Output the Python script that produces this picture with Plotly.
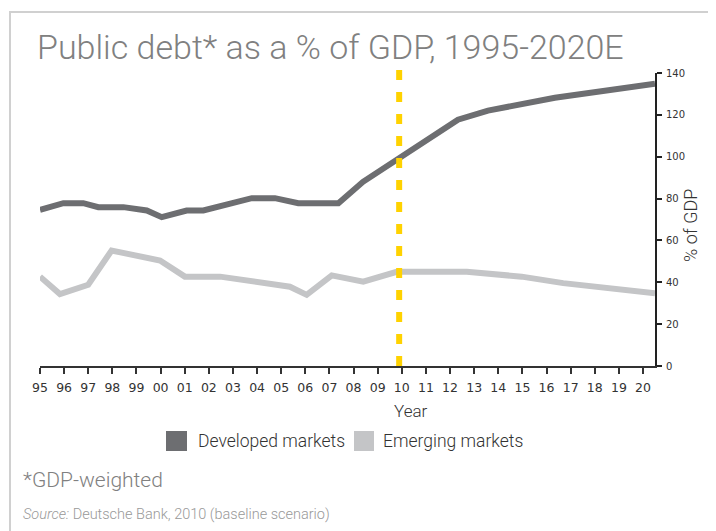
import plotly.graph_objects as go

# ---------------- data ----------------
tick_years = list(range(1995, 2021))
tick_labels = [f"{y % 100:02d}" for y in tick_years]
y_ticks = [0, 20, 40, 60, 80, 100, 120, 140]

# Developed markets (year position, % of GDP)
dev_years = [1995.0, 1995.95, 1996.76, 1997.37, 1998.39, 1999.34, 1999.95, 2000.96,
             2001.64, 2002.72, 2003.61, 2004.55, 2005.50, 2007.13, 2008.13, 2011.99,
             2013.21, 2015.93, 2020.0]
dev_vals = [74.6, 77.8, 77.8, 75.9, 75.9, 74.3, 71.1, 74.3,
            74.3, 77.8, 80.2, 80.2, 77.8, 77.8, 88.0, 117.7,
            122.0, 128.2, 134.9]

# Emerging markets
emg_years = [1995.0, 1995.81, 1996.96, 1997.91, 1999.88, 2000.89, 2002.32, 2005.16,
             2005.84, 2006.86, 2008.14, 2009.50, 2012.35, 2014.58, 2016.27, 2020.0]
emg_vals = [42.7, 34.4, 38.8, 55.2, 50.4, 42.7, 42.7, 37.9,
            34.0, 43.3, 40.3, 45.0, 45.0, 42.7, 39.6, 34.8]

forecast_start = 2009.6

series_names = ["Developed markets", "Emerging markets"]
series_colors = ["#6d6e71", "#c4c5c7"]

# ---------------- layout helpers ----------------
# page is shown with an 8px body margin; figure sized to fit the window
W, H = 708, 523
L, R, T, B = 32, 61, 65, 165
PW = W - L - R   # 615
PH = H - T - B   # 293
PL, PB = 40, 366  # plot-area left / bottom in page pixels


def px(x):
    return (x - PL) / PW


def py(y):
    return (PB - y) / PH


FONT = "Roboto"
TICKFONT = "DejaVu Sans"

fig = go.Figure()
# anchor trace for the visible tick axis (no data)
fig.add_trace(go.Scatter(x=[], y=[], xaxis="x", yaxis="y", mode="lines",
                         showlegend=False, hoverinfo="skip"))
fig.add_trace(go.Scatter(x=dev_years, y=dev_vals, mode="lines", name=series_names[0],
                         line=dict(color=series_colors[0], width=6),
                         xaxis="x2", yaxis="y", showlegend=False))
fig.add_trace(go.Scatter(x=emg_years, y=emg_vals, mode="lines", name=series_names[1],
                         line=dict(color=series_colors[1], width=6),
                         xaxis="x2", yaxis="y", showlegend=False))

tick_span = (643 - 40) / 25.0
x_end = 1995 + PW / tick_span

fig.update_layout(
    width=W, height=H,
    margin=dict(l=L, r=R, t=T, b=B, pad=0),
    paper_bgcolor="white", plot_bgcolor="white",
    showlegend=False,
    xaxis=dict(range=[1995, x_end], tickvals=tick_years, ticktext=tick_labels,
               showline=True, linecolor="#333333", linewidth=2,
               ticks="outside", ticklen=6, tickwidth=2, tickcolor="#333333",
               ticklabelstandoff=3,
               tickfont=dict(family=TICKFONT, size=12.5, color="#333333"),
               showgrid=False, zeroline=False, anchor="y"),
    xaxis2=dict(range=[1995, 2020], overlaying="x", visible=False, anchor="y"),
    yaxis=dict(range=[0, 140], side="right", tickvals=y_ticks,
               showline=True, linecolor="#222222", linewidth=2,
               ticks="outside", ticklen=5, tickwidth=2, tickcolor="#222222",
               ticklabelstandoff=2,
               tickfont=dict(family=TICKFONT, size=10, color="#333333"),
               showgrid=False, zeroline=False, anchor="x"),
)

# forecast marker
fig.add_shape(type="line", xref="x2", yref="paper",
              x0=forecast_start, x1=forecast_start, y0=0, y1=py(69),
              line=dict(color="#FFD200", width=6, dash="10px,12px"), layer="above")

# frame
fig.add_shape(type="rect", xref="paper", yref="paper",
              x0=px(10), x1=px(709), y0=py(545), y1=py(12),
              line=dict(color="#d0d0d0", width=2), fillcolor="rgba(0,0,0,0)", layer="below")

ann = []
ann.append(dict(text="Public debt* as a % of GDP, 1995-2020E", x=px(35), y=py(47),
                xanchor="left", yanchor="middle",
                font=dict(family=FONT, size=34, color="#808080", weight=300)))
ann.append(dict(text="Year", x=px(411), y=py(411), xanchor="center", yanchor="middle",
                font=dict(family=FONT, size=17, color="#333333", weight=300)))
ann.append(dict(text="% of GDP", x=px(690), y=py(226), xanchor="center", yanchor="middle",
                textangle=-90, font=dict(family=FONT, size=18, color="#333333", weight=300)))

# legend
legend_swatch_x = [(166, 187), (354, 374)]
legend_text_x = [196, 381]
for i in range(2):
    fig.add_shape(type="rect", xref="paper", yref="paper",
                  x0=px(legend_swatch_x[i][0]), x1=px(legend_swatch_x[i][1]),
                  y0=py(451), y1=py(431), line=dict(width=0), fillcolor=series_colors[i])
    ann.append(dict(text=series_names[i], x=px(legend_text_x[i]), y=py(441),
                    xanchor="left", yanchor="middle",
                    font=dict(family=FONT, size=17.5, color="#333333", weight=300)))

ann.append(dict(text="*GDP-weighted", x=px(21), y=py(480), xanchor="left", yanchor="middle",
                font=dict(family=FONT, size=21, color="#808080", weight=300)))
ann.append(dict(text="<i>Source:</i> Deutsche Bank, 2010 (baseline scenario)", x=px(21), y=py(514),
                xanchor="left", yanchor="middle",
                font=dict(family=FONT, size=14.5, color="#999999", weight=300)))

for a in ann:
    a.update(xref="paper", yref="paper", showarrow=False)
fig.update_layout(annotations=ann)

fig.write_html("out.html")
